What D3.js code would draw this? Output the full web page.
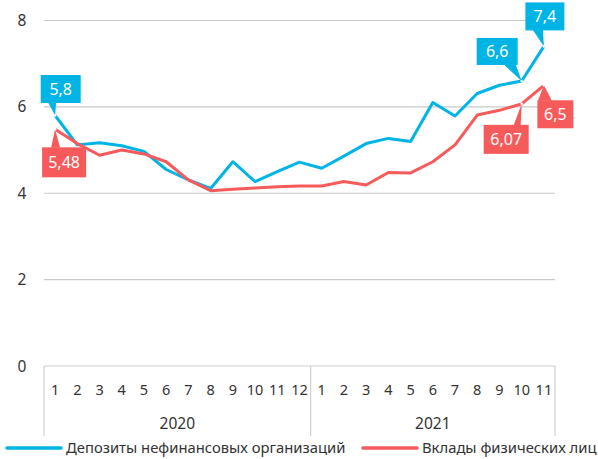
<!DOCTYPE html>
<html>
<head>
<meta charset="utf-8">
<script src="https://cdn.jsdelivr.net/npm/d3@7"></script>
<style>
  html, body { margin: 0; padding: 0; background: #fff; }
  svg { display: block; font-family: "Noto Sans", sans-serif; }
</style>
</head>
<body>
<svg id="chart" width="598" height="459"></svg>
<script>
// data
const months2020 = ["1", "2", "3", "4", "5", "6", "7", "8", "9", "10", "11", "12"];
const months2021 = ["1", "2", "3", "4", "5", "6", "7", "8", "9", "10", "11"];
const years = ["2020", "2021"];
const seriesNames = ["Депозиты нефинансовых организаций", "Вклады физических лиц"];
const deposits = [5.8, 5.12, 5.17, 5.1, 4.97, 4.55, 4.31, 4.11, 4.73, 4.27, 4.5, 4.72,
                  4.58, 4.86, 5.15, 5.27, 5.2, 6.1, 5.79, 6.31, 6.5, 6.6, 7.4];
const household = [5.48, 5.15, 4.88, 5.0, 4.91, 4.73, 4.31, 4.06, 4.09, 4.12, 4.15, 4.17,
                    4.17, 4.27, 4.19, 4.48, 4.47, 4.73, 5.12, 5.81, 5.92, 6.07, 6.5];
const yTicks = [0, 2, 4, 6, 8];
// callout labels: series index, point index, text
const calloutSeries = [0, 1, 0, 0, 1, 1];
const calloutPoint = [0, 0, 21, 22, 21, 22];
const calloutText = ["5,8", "5,48", "6,6", "7,4", "6,07", "6,5"];

// layout of the callouts (box centre offset from the point, pointer base)
const calloutLayout = [
  { dx: 5.6, dy: -26.5, w: 40, h: 28, base: [-7, 1] },
  { dx: 9, dy: 33, w: 44, h: 30, base: [-4, 5] },
  { dx: -24.5, dy: -29.5, w: 41, h: 27, base: [-18, -6] },
  { dx: 1, dy: -30, w: 39, h: 28, base: [-11, -1] },
  { dx: -15.5, dy: 35.5, w: 45, h: 29, base: [-8, -1] },
  { dx: 11.5, dy: 29, w: 36, h: 28, base: [-6, 8] }
];

const colors = ["#00b4e5", "#f65a5b"];
const series = [deposits, household];

const svg = d3.select("#chart");
const mLeft = 44, mRight = 555, mTop = 20.5, mBottom = 366;

const x = d3.scaleBand()
  .domain(d3.range(months2020.length + months2021.length))
  .range([mLeft, mRight]);
const y = d3.scaleLinear().domain([0, 8]).range([mBottom, mTop]);

// grid
svg.append("g")
  .selectAll("line")
  .data(yTicks.filter(d => d > 0))
  .join("line")
  .attr("x1", mLeft).attr("x2", mRight)
  .attr("y1", d => y(d)).attr("y2", d => y(d))
  .attr("stroke", "#c9c9c9")
  .attr("stroke-width", 1.2);

// y labels
svg.append("g")
  .selectAll("text")
  .data(yTicks)
  .join("text")
  .attr("x", 22)
  .attr("y", d => y(d))
  .attr("dy", "0.36em")
  .attr("text-anchor", "middle")
  .attr("font-size", 15.5)
  .attr("fill", "#333")
  .text(d => d);

// x axis box
const axisBottom = 436;
const axis = svg.append("g").attr("stroke", "#d0d0d0").attr("stroke-width", 1.2);
axis.append("line").attr("x1", mLeft).attr("x2", mRight).attr("y1", mBottom).attr("y2", mBottom);
[mLeft, x(months2020.length), mRight].forEach(px => {
  axis.append("line").attr("x1", px).attr("x2", px).attr("y1", mBottom).attr("y2", axisBottom);
});

const monthLabels = months2020.concat(months2021);
svg.append("g")
  .selectAll("text")
  .data(monthLabels)
  .join("text")
  .attr("x", (d, i) => x(i) + x.bandwidth() / 2)
  .attr("y", 390)
  .attr("dy", "0.36em")
  .attr("text-anchor", "middle")
  .attr("font-size", 14.5)
  .attr("fill", "#333")
  .text(d => d);

const yearStart = [0, months2020.length];
const yearEnd = [months2020.length, months2020.length + months2021.length];
svg.append("g")
  .selectAll("text")
  .data(years)
  .join("text")
  .attr("x", (d, i) => (x(yearStart[i]) + (yearEnd[i] === x.domain().length ? mRight : x(yearEnd[i]))) / 2)
  .attr("y", 423)
  .attr("dy", "0.36em")
  .attr("text-anchor", "middle")
  .attr("font-size", 15.5)
  .attr("fill", "#333")
  .text(d => d);

// lines
const line = d3.line()
  .x((d, i) => x(i) + x.bandwidth() / 2)
  .y(d => y(d));

svg.append("g")
  .selectAll("path")
  .data(series)
  .join("path")
  .attr("fill", "none")
  .attr("stroke", (d, i) => colors[i])
  .attr("stroke-width", 3)
  .attr("stroke-linejoin", "round")
  .attr("d", line);

// callouts
const callouts = calloutText.map((t, k) => {
  const s = calloutSeries[k], p = calloutPoint[k];
  return { text: t, color: colors[s], px: x(p) + x.bandwidth() / 2, py: y(series[s][p]), ...calloutLayout[k] };
});

const cg = svg.append("g")
  .selectAll("g")
  .data(callouts)
  .join("g");

cg.append("path")
  .attr("fill", d => d.color)
  .attr("d", d => {
    const cy = d.py + d.dy;
    const edge = d.dy < 0 ? cy + d.h / 2 - 0.5 : cy - d.h / 2 + 0.5;
    return `M${d.px + d.base[0]},${edge}L${d.px},${d.py}L${d.px + d.base[1]},${edge}Z`;
  });

cg.append("circle")
  .attr("cx", d => d.px)
  .attr("cy", d => d.py)
  .attr("r", 1.3)
  .attr("fill", "#fff");

cg.append("rect")
  .attr("fill", d => d.color)
  .attr("x", d => d.px + d.dx - d.w / 2)
  .attr("y", d => d.py + d.dy - d.h / 2)
  .attr("width", d => d.w)
  .attr("height", d => d.h);

cg.append("text")
  .attr("x", d => d.px + d.dx)
  .attr("y", d => d.py + d.dy)
  .attr("dy", "0.36em")
  .attr("text-anchor", "middle")
  .attr("font-size", 16)
  .attr("fill", "#fff")
  .text(d => d.text);

// legend
const legendX = [7, 363];
const legend = svg.append("g")
  .selectAll("g")
  .data(seriesNames)
  .join("g")
  .attr("transform", (d, i) => `translate(${legendX[i]},448)`);

legend.append("line")
  .attr("x1", 0).attr("x2", 54)
  .attr("stroke", (d, i) => colors[i])
  .attr("stroke-width", 3.5)
  .attr("stroke-linecap", "round");

legend.append("text")
  .attr("x", 59)
  .attr("dy", "0.36em")
  .attr("font-size", 14.8)
  .attr("fill", "#333")
  .text(d => d);
</script>
</body>
</html>
